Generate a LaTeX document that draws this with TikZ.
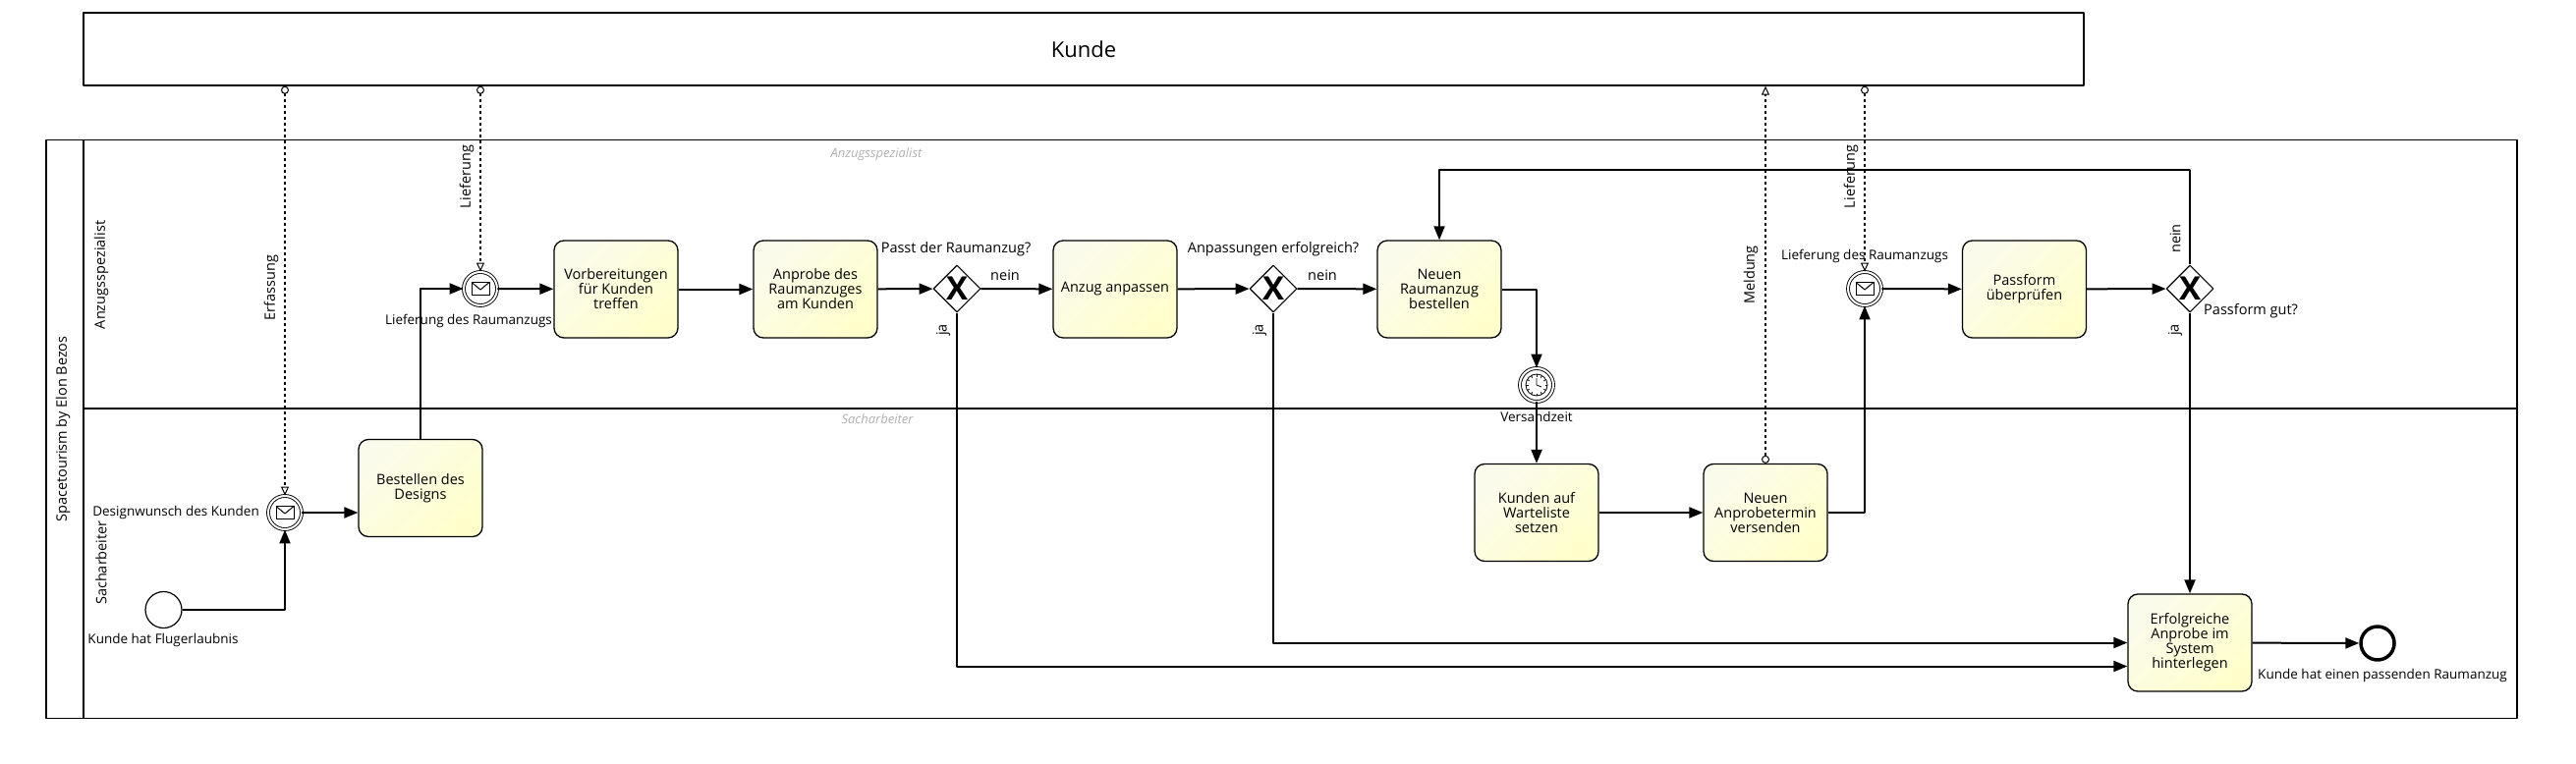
\documentclass[tikz,border=0pt]{standalone}
\usepackage{fontspec}
\setmainfont{Open Sans}
\usetikzlibrary{arrows.meta}
\usetikzlibrary{shapes.geometric}
\usetikzlibrary{positioning}
\definecolor{taskA}{RGB}{251,251,236}
\definecolor{taskB}{RGB}{255,255,204}
\definecolor{lanegrey}{RGB}{176,176,176}
\newcommand*{\tasksize}{\fontsize{14.5}{15}\selectfont}
\newcommand*{\labelsize}{\fontsize{13.5}{15}\selectfont}
\tikzstyle{base}=[x=1pt, y=-1pt, line join=round]
\tikzstyle{task}=[draw, line width=1.3pt, rounded corners=10pt, minimum width=126pt, minimum height=99pt, align=center, top color=taskA, bottom color=taskB, shading angle=45, font=\tasksize, inner sep=2pt]
\tikzstyle{gateway}=[draw, diamond, fill=white, line width=1.1pt, minimum width=48pt, minimum height=48pt, inner sep=0pt, font=\fontsize{33}{33}\selectfont\bfseries]
\tikzstyle{evstart}=[draw, circle, fill=white, line width=1.2pt, minimum size=37pt, inner sep=0pt]
\tikzstyle{evinter}=[evstart, line width=0.9pt, double, double distance=2pt, minimum size=34pt]
\tikzstyle{evend}=[evstart, line width=3.5pt, minimum size=34pt]
\tikzstyle{flow}=[draw, line width=2pt, -{Triangle[length=14pt, width=11pt]}]
\tikzstyle{msgflow}=[draw, line width=1.5pt, dash pattern=on 3pt off 3pt, {Circle[open, fill=white, length=8pt, width=8pt, line width=1pt]}-{Triangle[open, fill=white, length=9pt, width=8pt, line width=1pt]}]
\tikzstyle{lbl}=[font=\tasksize, inner sep=1pt]
\tikzstyle{evlbl}=[font=\labelsize, inner sep=1pt]
\tikzstyle{lanelbl}=[font=\fontsize{14.5}{15}\selectfont, rotate=90, inner sep=1pt]
\tikzstyle{greylbl}=[font=\fontsize{13}{15}\selectfont\itshape, text=lanegrey]
\newcommand*{\envelope}[1]{%
  \begin{scope}[shift={(#1)}, line width=1pt]
    \draw (-9,-6.5) rectangle (9,6.5);
    \draw (-9,-6.5) -- (0,1) -- (9,-6.5);
  \end{scope}}
\newcommand*{\clockface}[1]{%
  \begin{scope}[shift={(#1)}, line width=0.8pt]
    \draw (0,0) circle (11pt);
    \foreach \a in {0,30,...,330}
      \draw (\a:8.5pt) -- (\a:11pt);
    \draw (0,-7) -- (0,0) -- (5,2);
  \end{scope}}

\begin{document}
\begin{tikzpicture}[base]
    \useasboundingbox (0,0) rectangle (2622,778);
    % pools and lanes
    \node [draw, line width=1.5pt, minimum width=2036pt, minimum height=74pt, font=\fontsize{22}{24}\selectfont] (kunde) at (1103,50) {Kunde};
    \draw [line width=1.5pt] (47,142.7) rectangle (2562,731.7);
    \draw [line width=1.3pt] (85,142.7) -- (85,731.7);
    \draw [line width=1.3pt] (85,416) -- (2562,416);
    \node [lanelbl] at (64,437) {Spacetourism by Elon Bezos};
    \node [lanelbl] at (103,280) {Anzugsspezialist};
    \node [lanelbl] at (103,573) {Sacharbeiter};
    \node [greylbl] at (892,157) {Anzugsspezialist};
    \node [greylbl] at (893,427) {Sacharbeiter};

    % events
    \node [evstart] (start) at (166.5,621) {};
    \node [evinter] (wunsch) at (290,522) {};
    \node [evinter] (lieferA) at (489,294) {};
    \node [evinter] (versand) at (1564,392) {};
    \node [evinter] (lieferB) at (1898,294) {};
    \node [evend] (ende) at (2420,655) {};
    \envelope{wunsch}
    \envelope{lieferA}
    \envelope{lieferB}
    \clockface{versand}

    % tasks
    \node [task] (design) at (428,497) {Bestellen des\\Designs};
    \node [task] (prep) at (627,294.5) {Vorbereitungen\\für Kunden\\treffen};
    \node [task] (anprobe) at (830,294.5) {Anprobe des\\Raumanzuges\\am Kunden};
    \node [task] (anpassen) at (1135,294.5) {Anzug anpassen};
    \node [task] (bestellen) at (1465,294.5) {Neuen\\Raumanzug\\bestellen};
    \node [task] (warteliste) at (1564,522) {Kunden auf\\Warteliste\\setzen};
    \node [task] (termin) at (1797,522) {Neuen\\Anprobetermin\\versenden};
    \node [task] (passform) at (2060.5,294.5) {Passform\\überprüfen};
    \node [task] (erfolg) at (2229,654.5) {Erfolgreiche\\Anprobe im\\System\\hinterlegen};

    % gateways
    \node [gateway] (gwA) at (974,294) {X};
    \node [gateway] (gwB) at (1296,294) {X};
    \node [gateway] (gwC) at (2229,294) {X};
    \coordinate (loop) at (1465,173);

    % sequence flows
    \draw [flow] (start) -| (wunsch);
    \draw [flow] (wunsch) -- (wunsch -| design.west);
    \draw [flow] (design) |- (lieferA);
    \draw [flow] (lieferA) -- (prep);
    \draw [flow] (prep) -- (anprobe);
    \draw [flow] (anprobe) -- (gwA);
    \draw [flow] (gwA) -- (anpassen);
    \draw [flow] (anpassen) -- (gwB);
    \draw [flow] (gwB) -- (bestellen);
    \draw [flow] (bestellen) -| (versand);
    \draw [flow] (versand) -- (warteliste);
    \draw [flow] (warteliste) -- (termin);
    \draw [flow] (termin) -| (lieferB);
    \draw [flow] (lieferB) -- (passform);
    \draw [flow] (passform) -- (gwC);
    \draw [flow] (gwC) |- (loop) -- (bestellen);
    \draw [flow] (gwC) -- (erfolg);
    \draw [flow] (gwA) |- ([yshift=-24pt]erfolg.west);
    \draw [flow] (gwB) |- (erfolg);
    \draw [flow] (erfolg) -- (ende);

    % message flows
    \draw [msgflow] (kunde.south -| wunsch) -- (wunsch);
    \draw [msgflow] (kunde.south -| lieferA) -- (lieferA);
    \draw [msgflow] (termin) -- (kunde.south -| termin);
    \draw [msgflow] (kunde.south -| lieferB) -- (lieferB);

    % labels
    \node [evlbl, anchor=east] at (265,522) {Designwunsch des Kunden};
    \node [evlbl] at (166,652) {Kunde hat Flugerlaubnis};
    \node [evlbl] at (477,327) {Lieferung des Raumanzugs};
    \node [evlbl] at (1564,424) {Versandzeit};
    \node [evlbl] at (1898,261) {Lieferung des Raumanzugs};
    \node [evlbl] at (2425,688) {Kunde hat einen passenden Raumanzug};
    \node [lbl] at (973,254) {Passt der Raumanzug?};
    \node [lbl] at (1296,254) {Anpassungen erfolgreich?};
    \node [lbl, anchor=west] at (2242,317) {Passform gut?};
    \node [lbl] at (1023,280) {nein};
    \node [lbl] at (1346,280) {nein};
    \node [lbl, rotate=90] at (2214,243) {nein};
    \node [lbl, rotate=90] at (960,336) {ja};
    \node [lbl, rotate=90] at (1282,336) {ja};
    \node [lbl, rotate=90] at (2214,336) {ja};
    \node [lanelbl] at (276,293) {Erfassung};
    \node [lanelbl] at (475,180) {Lieferung};
    \node [lanelbl] at (1782,280) {Meldung};
    \node [lanelbl] at (1884,180) {Lieferung};
\end{tikzpicture}
\end{document}
